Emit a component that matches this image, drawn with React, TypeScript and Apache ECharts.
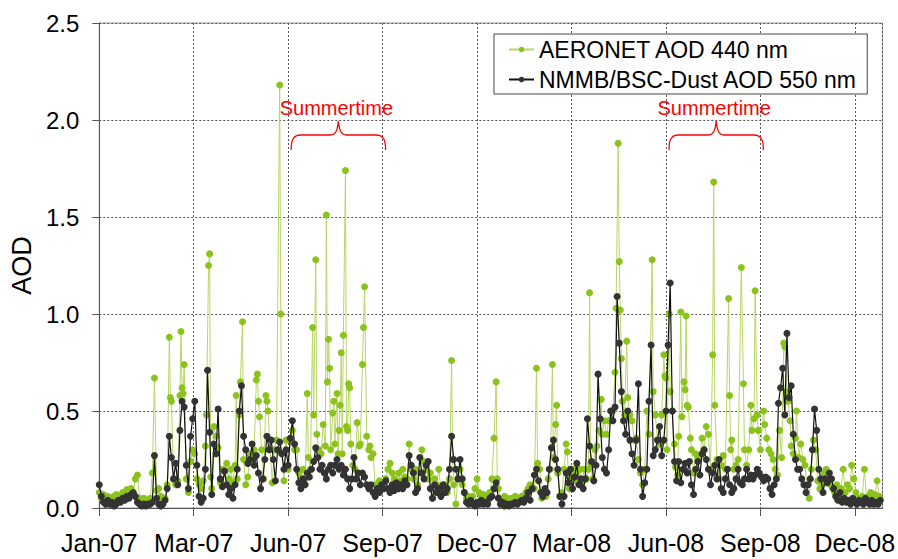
import React, { useEffect, useRef } from 'react';
import * as echarts from 'echarts';

// ---------- DATA ----------
// Days counted from 1 Jan 2007
const X_MIN = 0;
const X_MAX = 738;
const X_INTERVAL = 89;
const Y_MAX = 2.5;
const Y_INTERVAL = 0.5;
const MONTHS = ['Jan', 'Feb', 'Mar', 'Apr', 'May', 'Jun', 'Jul', 'Aug', 'Sep', 'Oct', 'Nov', 'Dec'];

const SERIES_NAMES = ['AERONET AOD 440 nm', 'NMMB/BSC-Dust AOD 550 nm'];

// NMMB/BSC-Dust AOD 550 nm, one value every 2 days starting 1 Jan 2007
const NMMB_STEP = 2;
const nmmbAod: number[] = [
  0.12, 0.06, 0.03, 0.02, 0.04, 0.02, 0.03, 0.01, 0.02, 0.04,
  0.03, 0.05, 0.04, 0.06, 0.05, 0.07, 0.08, 0.06, 0.03, 0.02,
  0.01, 0.02, 0.01, 0.02, 0.02, 0.03, 0.27, 0.05, 0.02, 0.01,
  0.02, 0.04, 0.1, 0.37, 0.26, 0.15, 0.23, 0.12, 0.4, 0.55,
  0.52, 0.22, 0.1, 0.37, 0.46, 0.55, 0.22, 0.06, 0.03, 0.05,
  0.2, 0.71, 0.39, 0.07, 0.33, 0.28, 0.51, 0.15, 0.11, 0.19,
  0.12, 0.07, 0.1, 0.05, 0.12, 0.2, 0.5, 0.63, 0.37, 0.3,
  0.23, 0.25, 0.33, 0.22, 0.27, 0.18, 0.1, 0.15, 0.25, 0.37,
  0.3, 0.35, 0.25, 0.14, 0.3, 0.34, 0.28, 0.2, 0.3, 0.22,
  0.36, 0.45, 0.33, 0.2, 0.13, 0.1, 0.15, 0.12, 0.18, 0.16,
  0.2, 0.24, 0.31, 0.26, 0.2, 0.22, 0.18, 0.15, 0.2, 0.22,
  0.18, 0.22, 0.25, 0.2, 0.22, 0.17, 0.2, 0.15, 0.1, 0.15,
  0.26, 0.15, 0.18, 0.12, 0.18, 0.16, 0.12, 0.1, 0.12, 0.08,
  0.06, 0.1, 0.08, 0.12, 0.1, 0.14, 0.1, 0.08, 0.12, 0.09,
  0.13, 0.1, 0.12, 0.1, 0.14, 0.12, 0.27, 0.22, 0.18, 0.08,
  0.1, 0.26, 0.18, 0.15, 0.22, 0.24, 0.1, 0.05, 0.12, 0.08,
  0.1, 0.06, 0.12, 0.08, 0.1, 0.2, 0.37, 0.25, 0.2, 0.15,
  0.25, 0.15, 0.08, 0.03, 0.02, 0.04, 0.02, 0.01, 0.03, 0.02,
  0.04, 0.02, 0.03, 0.02, 0.05, 0.06, 0.1, 0.13, 0.05, 0.02,
  0.03, 0.01, 0.02, 0.01, 0.02, 0.02, 0.03, 0.02, 0.03, 0.04,
  0.03, 0.05, 0.08, 0.04, 0.1, 0.17, 0.2, 0.14, 0.08, 0.06,
  0.1, 0.08, 0.2, 0.31, 0.35, 0.25, 0.2, 0.06, 0.02, 0.06,
  0.18, 0.13, 0.2, 0.1, 0.16, 0.23, 0.12, 0.15, 0.1, 0.15,
  0.46, 0.32, 0.24, 0.14, 0.22, 0.69, 0.46, 0.26, 0.2, 0.18,
  0.3, 0.5, 0.45, 0.52, 1.09, 0.85, 0.6, 0.45, 0.38, 0.5,
  0.35, 0.28, 0.22, 0.35, 0.64, 0.2, 0.06, 0.13, 0.2, 0.55,
  0.84, 0.27, 0.3, 0.35, 0.42, 0.27, 0.35, 0.5, 0.84, 1.16,
  0.5, 0.24, 0.14, 0.24, 0.13, 0.2, 0.23, 0.18, 0.24, 0.12,
  0.07, 0.2, 0.24, 0.17, 0.28, 0.3, 0.25, 0.2, 0.12, 0.18,
  0.22, 0.15, 0.25, 0.1, 0.08, 0.15, 0.2, 0.12, 0.08, 0.1,
  0.15, 0.2, 0.13, 0.12, 0.15, 0.2, 0.15, 0.17, 0.15, 0.17,
  0.2, 0.18, 0.16, 0.14, 0.16, 0.15, 0.1, 0.07, 0.12, 0.15,
  0.54, 0.62, 0.72, 0.48, 0.9, 0.57, 0.63, 0.38, 0.25, 0.2,
  0.2, 0.15, 0.12, 0.08, 0.12, 0.15, 0.3, 0.51, 0.4, 0.2,
  0.15, 0.08, 0.15, 0.13, 0.18, 0.15, 0.1, 0.06, 0.04, 0.08,
  0.03, 0.05, 0.03, 0.04, 0.02, 0.05, 0.03, 0.02, 0.04, 0.03,
  0.02, 0.05, 0.03, 0.02, 0.04, 0.02, 0.03, 0.02, 0.04,
];

// AERONET AOD 440 nm: [day since 1 Jan 2007, AOD]
const aeronetAod: [number, number][] = [
  [0, 0.08], [2, 0.05], [4, 0.07], [6, 0.04], [8, 0.06], [10, 0.05], [12, 0.04], [14, 0.06], [16, 0.07], [18, 0.05],
  [20, 0.06], [22, 0.08], [24, 0.07], [26, 0.095], [28, 0.09], [30, 0.1], [32, 0.08], [34, 0.15], [36, 0.17], [38, 0.05],
  [40, 0.04], [42, 0.05], [44, 0.03], [46, 0.04], [48, 0.05], [50, 0.18], [52, 0.67], [54, 0.09], [56, 0.1], [58, 0.06],
  [60, 0.04], [62, 0.05], [64, 0.12], [66, 0.88], [67, 0.57], [68, 0.55], [70, 0.15], [72, 0.12], [74, 0.14], [76, 0.58],
  [77, 0.91], [78, 0.62], [79, 0.59], [80, 0.74], [82, 0.15], [84, 0.08], [86, 0.24], [88, 0.3], [90, 0.28], [92, 0.15],
  [94, 0.12], [96, 0.1], [98, 0.14], [100, 0.32], [101, 0.48], [103, 1.25], [104, 1.31], [105, 0.16], [106, 0.1], [108, 0.42],
  [110, 0.37], [112, 0.31], [114, 0.13], [116, 0.2], [118, 0.19], [120, 0.23], [122, 0.15], [124, 0.2], [126, 0.13], [128, 0.22],
  [129, 0.58], [130, 0.15], [132, 0.48], [133, 0.65], [135, 0.96], [136, 0.25], [138, 0.12], [140, 0.16], [142, 0.28], [144, 0.25],
  [146, 0.3], [148, 0.66], [149, 0.69], [150, 0.55], [151, 0.47], [153, 0.3], [155, 0.15], [157, 0.58], [158, 0.55], [159, 0.5],
  [161, 0.3], [163, 0.13], [165, 0.3], [167, 0.35], [170, 2.18], [171, 1.0], [172, 0.28], [174, 0.14], [176, 0.35], [178, 0.2],
  [180, 0.35], [182, 0.4], [184, 0.3], [186, 0.3], [188, 0.18], [190, 0.15], [192, 0.2], [194, 0.15], [196, 0.59], [197, 0.26],
  [199, 0.2], [201, 0.93], [202, 0.48], [204, 1.28], [205, 0.38], [207, 0.3], [209, 0.28], [211, 0.43], [213, 0.32], [214, 1.51],
  [215, 0.65], [216, 0.87], [217, 0.72], [218, 0.3], [220, 0.49], [221, 0.55], [222, 0.33], [224, 0.59], [225, 0.28], [226, 0.4],
  [227, 0.53], [228, 0.8], [229, 0.28], [230, 0.89], [232, 1.74], [233, 0.42], [234, 0.4], [235, 0.64], [236, 0.62], [237, 0.33],
  [239, 0.22], [241, 0.2], [243, 0.44], [245, 0.32], [246, 0.33], [248, 0.74], [249, 0.93], [250, 1.14], [252, 0.37], [254, 0.3],
  [255, 0.32], [256, 0.26], [258, 0.28], [260, 0.12], [262, 0.1], [264, 0.14], [266, 0.1], [268, 0.13], [270, 0.15], [272, 0.2],
  [274, 0.23], [276, 0.18], [278, 0.15], [280, 0.12], [282, 0.18], [284, 0.14], [286, 0.2], [288, 0.16], [290, 0.15], [292, 0.33],
  [294, 0.2], [296, 0.15], [298, 0.2], [300, 0.12], [302, 0.18], [304, 0.3], [306, 0.24], [308, 0.2], [310, 0.15], [312, 0.18],
  [314, 0.05], [316, 0.15], [318, 0.12], [320, 0.2], [322, 0.08], [324, 0.1], [326, 0.12], [328, 0.08], [330, 0.15], [332, 0.76],
  [333, 0.25], [334, 0.12], [336, 0.02], [338, 0.15], [340, 0.2], [342, 0.12], [344, 0.08], [346, 0.05], [348, 0.06], [350, 0.04],
  [352, 0.06], [354, 0.1], [356, 0.15], [358, 0.08], [360, 0.05], [362, 0.07], [364, 0.05], [366, 0.06], [368, 0.08], [370, 0.15],
  [372, 0.36], [374, 0.65], [375, 0.15], [376, 0.1], [378, 0.05], [380, 0.04], [382, 0.06], [384, 0.05], [386, 0.04], [388, 0.05],
  [390, 0.04], [392, 0.06], [394, 0.05], [396, 0.04], [398, 0.06], [400, 0.05], [402, 0.08], [404, 0.1], [406, 0.12], [408, 0.1],
  [410, 0.1], [412, 0.72], [413, 0.23], [415, 0.2], [417, 0.05], [419, 0.08], [421, 0.06], [423, 0.15], [425, 0.2], [427, 0.74],
  [428, 0.26], [430, 0.43], [431, 0.53], [432, 0.18], [434, 0.06], [436, 0.08], [438, 0.2], [440, 0.33], [441, 0.29], [443, 0.1],
  [445, 0.15], [447, 0.2], [449, 0.18], [451, 0.13], [453, 0.2], [455, 0.13], [457, 0.2], [459, 0.15], [461, 0.2], [462, 1.11],
  [463, 0.23], [465, 0.15], [467, 0.3], [469, 0.32], [471, 0.4], [473, 0.56], [474, 0.38], [476, 0.45], [478, 0.38], [480, 0.45],
  [482, 0.5], [484, 0.5], [486, 0.7], [487, 1.03], [489, 1.88], [490, 1.27], [491, 1.02], [492, 0.77], [493, 0.55], [495, 0.48],
  [497, 0.86], [498, 0.57], [500, 0.48], [502, 0.45], [504, 0.35], [506, 0.36], [508, 0.25], [510, 0.18], [512, 0.12], [514, 0.2],
  [516, 0.5], [518, 0.38], [521, 1.28], [522, 0.6], [524, 0.48], [526, 0.35], [528, 0.33], [530, 0.48], [532, 0.79], [533, 0.68],
  [534, 0.67], [535, 0.3], [537, 1.0], [538, 0.6], [540, 0.5], [542, 0.33], [543, 0.21], [545, 0.17], [546, 0.37], [548, 1.01],
  [549, 0.47], [551, 0.65], [552, 0.61], [553, 0.99], [554, 0.53], [555, 0.52], [557, 0.36], [558, 0.3], [560, 0.18], [562, 0.28],
  [564, 0.26], [566, 0.27], [568, 0.36], [570, 0.3], [572, 0.42], [574, 0.38], [576, 0.2], [578, 0.79], [579, 1.68], [580, 0.53],
  [582, 0.25], [584, 0.15], [586, 0.22], [588, 0.27], [590, 0.2], [593, 1.08], [594, 0.58], [595, 0.3], [596, 0.35], [598, 0.2],
  [600, 0.22], [602, 0.25], [605, 1.24], [607, 0.64], [608, 0.3], [610, 0.22], [612, 0.3], [614, 0.53], [615, 0.4], [617, 0.46],
  [618, 1.12], [620, 0.48], [621, 0.4], [623, 0.3], [626, 0.5], [627, 0.43], [629, 0.36], [631, 0.3], [633, 0.28], [635, 0.25],
  [637, 0.2], [639, 0.17], [641, 0.4], [643, 0.26], [645, 0.85], [646, 0.83], [648, 0.6], [649, 0.55], [651, 0.45], [652, 0.32],
  [654, 0.28], [656, 0.36], [657, 0.5], [659, 0.26], [661, 0.33], [663, 0.25], [665, 0.22], [667, 0.12], [669, 0.05], [671, 0.2],
  [673, 0.35], [675, 0.3], [677, 0.14], [679, 0.1], [681, 0.12], [683, 0.18], [685, 0.2], [687, 0.15], [689, 0.12], [691, 0.1],
  [693, 0.08], [695, 0.12], [697, 0.06], [699, 0.1], [701, 0.2], [703, 0.08], [705, 0.12], [707, 0.1], [709, 0.22], [711, 0.15],
  [713, 0.08], [715, 0.05], [717, 0.04], [719, 0.06], [721, 0.2], [723, 0.05], [725, 0.06], [727, 0.08], [729, 0.05], [731, 0.07],
  [733, 0.14], [735, 0.06],
];

// Summertime periods (day since 1 Jan 2007, start/end tick)
const summerPeriods: [number, number][] = [[178, 267], [534, 623]];
const SUMMER_LABEL = 'Summertime';

// ---------- CHART ----------
const FONT = '"Liberation Sans", Arial, Helvetica, sans-serif';
const BRACE_W = 96;
const BRACE_D =
  'M0,29 C0,19 2,14 10,14 L40,14 C45,14 47,10 48,0 C49,10 51,14 56,14 L86,14 C94,14 96,19 96,29';

let braceRegistered = false;
function registerBrace() {
  if (braceRegistered) return;
  echarts.graphic.registerShape('brace', echarts.graphic.extendPath(BRACE_D, {}) as any);
  braceRegistered = true;
}

function dayLabel(v: number): string {
  if (Math.round(v) % X_INTERVAL !== 0) return '';
  const d = new Date(2007, 0, 1 + Math.round(v));
  return MONTHS[d.getMonth()] + '-' + String(d.getFullYear()).slice(2);
}

export default function App() {
  const ref = useRef<HTMLDivElement>(null);

  useEffect(() => {
    if (!ref.current) return;
    registerBrace();
    const chart = echarts.init(ref.current, undefined, { renderer: 'svg' });
    const nmmbData = nmmbAod.map((v, i) => [i * NMMB_STEP, v]);

    chart.setOption({
      animation: false,
      backgroundColor: '#ffffff',
      grid: {
        left: 95,
        top: 23,
        width: 789,
        height: 485,
        show: true,
        borderColor: '#999999',
        borderWidth: 1,
        backgroundColor: 'transparent',
      },
      legend: {
        left: 494,
        top: 34,
        orient: 'vertical',
        padding: [4, 10, 3, 14],
        itemGap: 7,
        itemWidth: 25,
        itemHeight: 7,
        backgroundColor: '#ffffff',
        borderColor: '#444444',
        borderWidth: 1,
        textStyle: { fontSize: 23, color: '#000000', fontFamily: FONT },
        data: SERIES_NAMES,
      },
      xAxis: {
        type: 'value',
        min: X_MIN,
        max: X_MAX,
        interval: X_INTERVAL,
        axisLine: { lineStyle: { color: '#555555', width: 1 } },
        axisTick: { show: true, length: 8, lineStyle: { color: '#555555' } },
        axisLabel: {
          margin: 22,
          fontSize: 25,
          color: '#000000',
          fontFamily: FONT,
          showMaxLabel: false,
          formatter: dayLabel,
        },
        splitLine: { show: true, lineStyle: { color: '#555555', type: [2, 2], width: 1 } },
      },
      yAxis: {
        type: 'value',
        min: 0,
        max: Y_MAX,
        interval: Y_INTERVAL,
        name: 'AOD',
        nameLocation: 'middle',
        nameGap: 58,
        nameTextStyle: { fontSize: 27, color: '#000000', fontFamily: FONT },
        axisLine: { show: true, lineStyle: { color: '#555555', width: 1 } },
        axisTick: { show: true, length: 7, lineStyle: { color: '#555555' } },
        axisLabel: {
          margin: 20,
          fontSize: 24,
          color: '#000000',
          fontFamily: FONT,
          formatter: (v: number) => v.toFixed(1),
        },
        splitLine: { show: true, lineStyle: { color: '#555555', type: [2, 2], width: 1 } },
      },
      series: [
        {
          name: SERIES_NAMES[0],
          type: 'line',
          data: aeronetAod,
          symbol: 'circle',
          symbolSize: 7,
          showAllSymbol: true,
          itemStyle: { color: '#8cc21c' },
          lineStyle: { color: '#b8d665', width: 1 },
          z: 2,
        },
        {
          name: SERIES_NAMES[1],
          type: 'line',
          data: nmmbData,
          symbol: 'circle',
          symbolSize: 7,
          showAllSymbol: true,
          itemStyle: { color: '#333333' },
          lineStyle: { color: '#111111', width: 1.2 },
          z: 3,
        },
      ],
    });

    const graphics: any[] = [];
    summerPeriods.forEach(([a, b]) => {
      const x0 = (chart.convertToPixel({ xAxisIndex: 0 }, a) as number) + 3;
      const x1 = (chart.convertToPixel({ xAxisIndex: 0 }, b) as number) + 3;
      graphics.push({
        type: 'brace',
        x: x0,
        y: 121,
        scaleX: (x1 - x0) / BRACE_W,
        scaleY: 1,
        silent: true,
        z: 10,
        style: { stroke: '#ff0000', fill: 'none', lineWidth: 1.3, strokeNoScale: true },
      });
      graphics.push({
        type: 'text',
        x: (x0 + x1) / 2 - 2,
        y: 108,
        silent: true,
        z: 10,
        style: {
          text: SUMMER_LABEL,
          fontSize: 20,
          fontFamily: FONT,
          fill: '#ff0000',
          align: 'center',
          verticalAlign: 'middle',
        },
      });
    });
    chart.setOption({ graphic: graphics });

    return () => chart.dispose();
  }, []);

  return (
    <div
      ref={ref}
      style={{ position: 'fixed', left: 0, top: 0, width: 898, height: 559, background: '#fff' }}
    />
  );
}
